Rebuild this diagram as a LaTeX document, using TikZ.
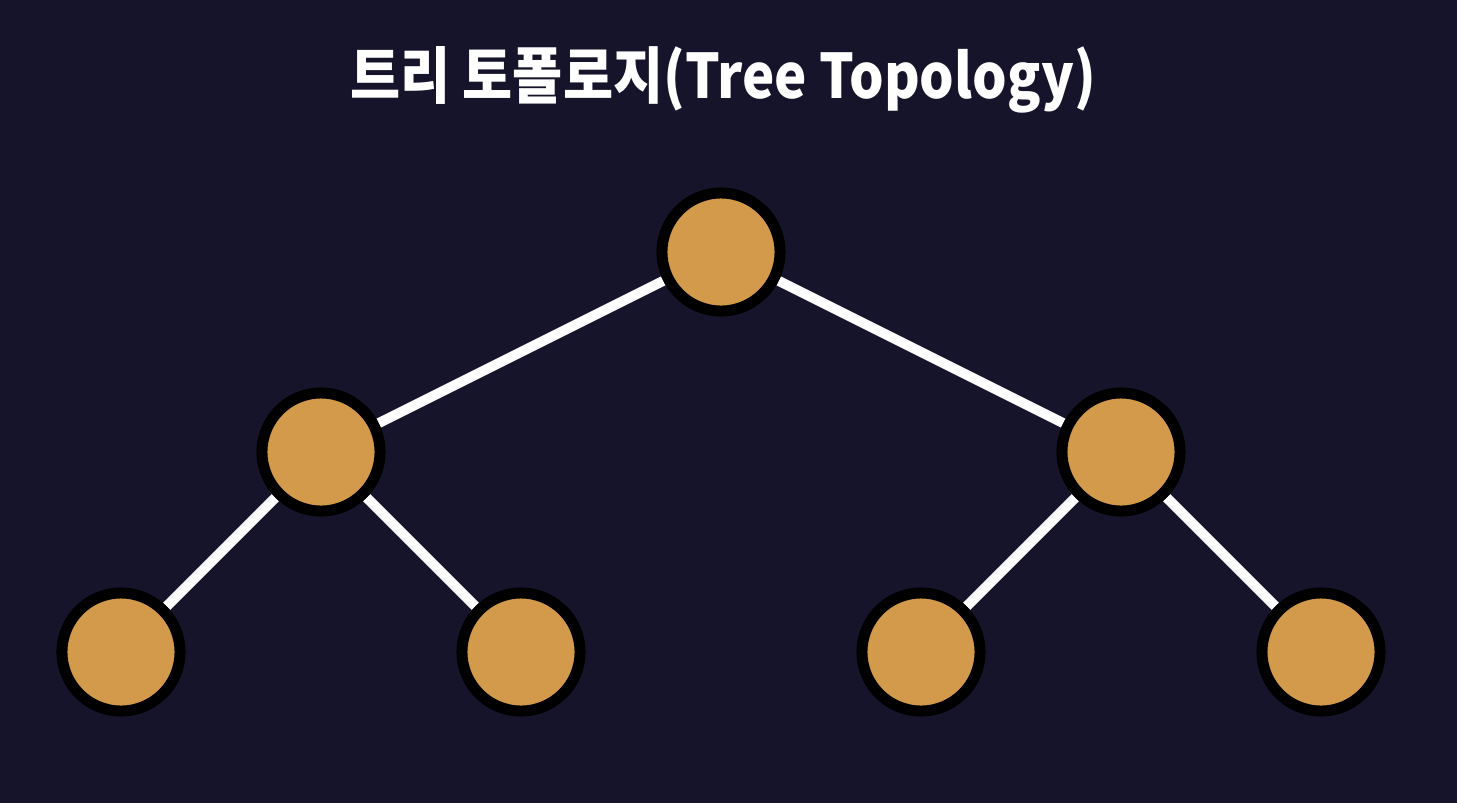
\documentclass[tikz,border=0pt]{standalone}
\usepackage{fontspec}
\usetikzlibrary{backgrounds}
\newfontfamily\krfont{Noto Sans CJK KR}
\definecolor{bgnavy}{HTML}{15142A}
\definecolor{nodeorange}{HTML}{D39A4B}
\begin{document}
\begin{tikzpicture}[x=0.01cm,y=-0.01cm]
\tikzstyle{treenode}=[circle,draw=black,fill=nodeorange,line width=0.11cm,minimum size=1.18cm,inner sep=0pt]
\tikzstyle{treelink}=[draw=white,line width=0.1cm]

%le titre
\node[text=white,xscale=0.885,font=\krfont\bfseries\fontsize{17.5}{20}\selectfont] (titre) at (723,80) {트리 토폴로지(Tree Topology)} ;

%les noeuds
\node[treenode] (racine) at (721,252) {} ;
\node[treenode] (gauche) at (321,452) {} ;
\node[treenode] (droite) at (1121,452) {} ;
\node[treenode] (feuilleA) at (121,652) {} ;
\node[treenode] (feuilleB) at (521,652) {} ;
\node[treenode] (feuilleC) at (921,652) {} ;
\node[treenode] (feuilleD) at (1321,652) {} ;

%fond et liens, sous les noeuds
\begin{scope}[on background layer]
\fill[bgnavy] (0,0) rectangle (1457,803) ;
\path[treelink] (racine) -- (gauche) ;
\path[treelink] (racine) -- (droite) ;
\path[treelink] (gauche) -- (feuilleA) ;
\path[treelink] (gauche) -- (feuilleB) ;
\path[treelink] (droite) -- (feuilleC) ;
\path[treelink] (droite) -- (feuilleD) ;
\end{scope}

\end{tikzpicture}
\end{document}
